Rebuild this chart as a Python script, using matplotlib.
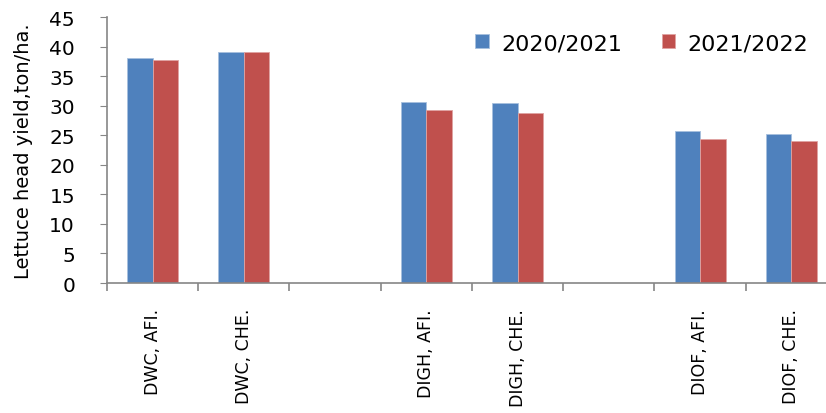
import numpy as np
import matplotlib
matplotlib.use("Agg")
import matplotlib.pyplot as plt

plt.rcParams['font.family'] = ['DejaVu Sans']

# categories, with blank slots separating the three systems
categories = ['DWC, AFI.', 'DWC, CHE.', '', 'DIGH, AFI.', 'DIGH, CHE.', '', 'DIOF, AFI.', 'DIOF, CHE.']
season_1 = [38.0, 39.1, np.nan, 30.7, 30.5, np.nan, 25.7, 25.2]
season_2 = [37.8, 39.1, np.nan, 29.2, 28.7, np.nan, 24.4, 24.1]
seasons = ['2020/2021', '2021/2022']

blue = '#4f81bd'
red = '#c0504d'
axis_grey = '#868686'

fig = plt.figure(figsize=(8.26, 4.14), dpi=100)
ax = fig.add_axes([0.1295, 0.314, 0.8838, 0.6425])

x = np.arange(len(categories))
w = 0.28
ax.bar(x - w / 2, season_1, w, color=blue, edgecolor='#a7c0de', linewidth=0.6, label=seasons[0])
ax.bar(x + w / 2, season_2, w, color=red, edgecolor='#e0a3a2', linewidth=0.6, label=seasons[1])

ax.set_xlim(-0.5, len(categories) - 0.5)
ax.set_ylim(0, 45)
ax.set_yticks(np.arange(0, 46, 5))
ax.tick_params(axis='y', labelsize=14.5, length=5, color=axis_grey, pad=18)

# boundary ticks between categories, labels at centres
ax.set_xticks(np.arange(-0.5, len(categories) + 0.5, 1))
ax.set_xticklabels([])
ax.tick_params(axis='x', which='major', length=6, color=axis_grey, width=1.2)
ax.set_xticks(x, minor=True)
ax.set_xticklabels(categories, minor=True, rotation=90, va='top', fontsize=12.5)
ax.tick_params(axis='x', which='minor', length=0, pad=18)

for s in ['top', 'right']:
    ax.spines[s].set_visible(False)
for s in ['left', 'bottom']:
    ax.spines[s].set_color(axis_grey)
    ax.spines[s].set_linewidth(1.2)

ax.set_ylabel('Lettuce head yield,ton/ha.', fontsize=14, labelpad=12)

ax.legend(ncol=2, frameon=False, fontsize=16, loc='upper right',
          bbox_to_anchor=(0.988, 1.015), handlelength=0.6, handleheight=0.6,
          columnspacing=1.8, handletextpad=0.55)

fig.savefig('out.png', dpi=100)
